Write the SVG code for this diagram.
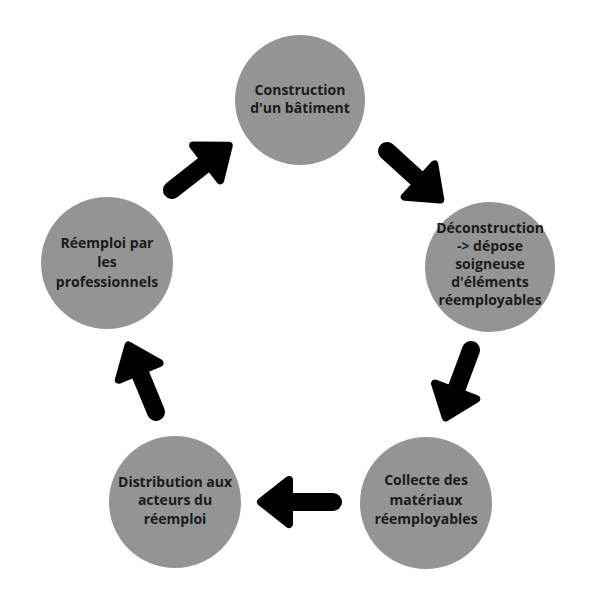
<svg xmlns="http://www.w3.org/2000/svg" width="600" height="600" viewBox="0 0 600 600">
<style>
.node circle{fill:#949494}
.node text{font-family:"Open Sans","Noto Sans",sans-serif;font-weight:700;font-size:14px;fill:#1a1a1a;text-anchor:middle}
.shaft{stroke:#000;stroke-width:18;stroke-linecap:round;fill:none}
.head{fill:#000;stroke:#000;stroke-width:8;stroke-linejoin:round}
</style>
<defs>
<g id="arrow">
<line class="shaft" x1="0" y1="0" x2="50" y2="0"/>
<polygon class="head" points="72,0 44,-22 44,22"/>
</g>
</defs>
<rect width="600" height="600" fill="#fff"/>
<g id="connectors">
<use href="#arrow" transform="translate(172,190) rotate(-38)"/>
<use href="#arrow" transform="translate(387,151) rotate(42.3)"/>
<use href="#arrow" transform="translate(471,350) rotate(110.5)"/>
<use href="#arrow" transform="translate(333,502) rotate(180)"/>
<use href="#arrow" transform="translate(156,412) rotate(-112.5)"/>
</g>
<g id="n1" class="node">
<circle cx="300" cy="100" r="65"/>
<text x="300" y="95">Construction</text>
<text x="300" y="113">d'un bâtiment</text>
</g>
<g id="n2" class="node">
<circle cx="490" cy="267" r="65"/>
<text x="490" y="233">Déconstruction</text>
<text x="490" y="251">-&gt; dépose</text>
<text x="490" y="269">soigneuse</text>
<text x="490" y="287">d'éléments</text>
<text x="490" y="305">réemployables</text>
</g>
<g id="n3" class="node">
<circle cx="426" cy="503" r="66"/>
<text x="426" y="485">Collecte des</text>
<text x="426" y="505">matériaux</text>
<text x="426" y="524">réemployables</text>
</g>
<g id="n4" class="node">
<circle cx="175" cy="502" r="66"/>
<text x="175" y="487">Distribution aux</text>
<text x="175" y="505">acteurs du</text>
<text x="175" y="524">réemploi</text>
</g>
<g id="n5" class="node">
<circle cx="107" cy="263" r="66"/>
<text x="107" y="248">Réemploi par</text>
<text x="107" y="267">les</text>
<text x="107" y="287">professionnels</text>
</g>
</svg>
